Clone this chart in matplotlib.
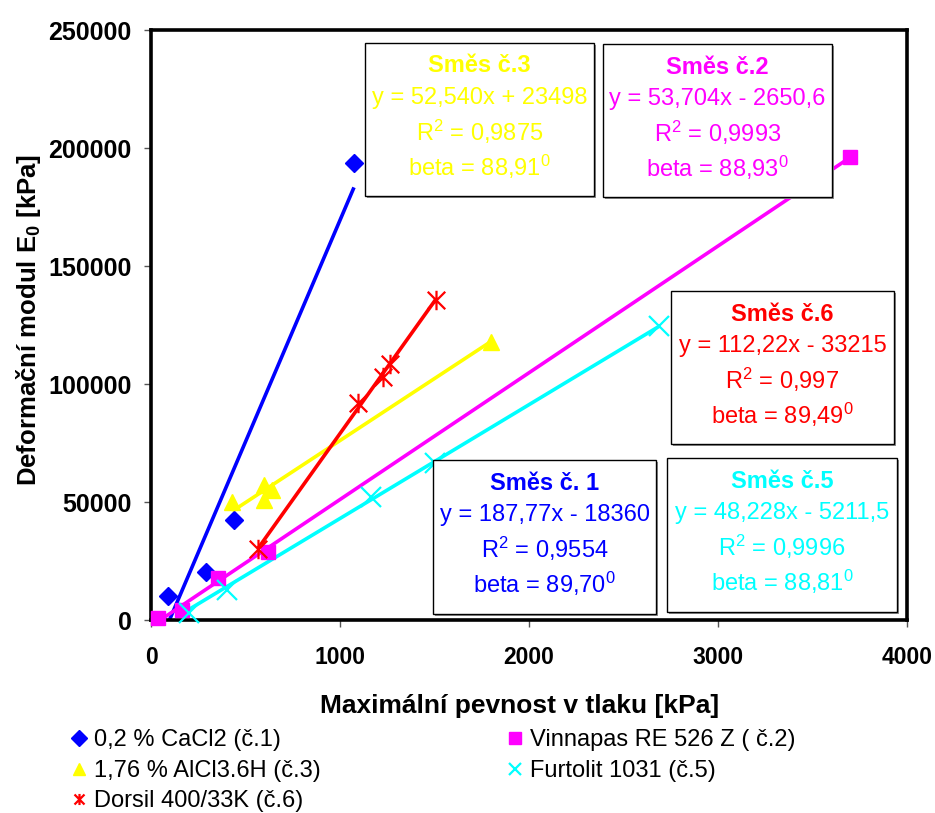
import numpy as np
import matplotlib
matplotlib.use("Agg")
import matplotlib.pyplot as plt
from matplotlib.path import Path
from matplotlib.patches import Rectangle

plt.rcParams['font.family'] = ['Liberation Sans', 'DejaVu Sans']
plt.rcParams['mathtext.fontset'] = 'custom'
plt.rcParams['mathtext.rm'] = 'Liberation Sans'
plt.rcParams['mathtext.it'] = 'Liberation Sans:italic'
plt.rcParams['mathtext.bf'] = 'Liberation Sans:bold'

# --- data ---
cacl2_x = [90, 291, 439, 1074]
cacl2_y = [10000, 20300, 42300, 193700]

vinn_x = [37, 164, 354, 619, 3698]
vinn_y = [1000, 4200, 17800, 28800, 196300]

alcl3_x = [431, 598, 598, 640, 1799]
alcl3_y = [50000, 57000, 51000, 55000, 118000]

furt_x = [201, 402, 1164, 1503, 2688]
furt_y = [3000, 12700, 52000, 66400, 124400]

dors_x = [566, 1095, 1228, 1265, 1508]
dors_y = [30000, 92000, 102800, 108300, 135400]

labels = ["0,2 % CaCl2 (č.1)", "Vinnapas RE 526 Z ( č.2)", "1,76 % AlCl3.6H (č.3)",
          "Furtolit 1031 (č.5)", "Dorsil 400/33K (č.6)"]
colors = ["#0000FF", "#FF00FF", "#FFFF00", "#00FFFF", "#FF0000"]

# trendline equations (slope, intercept)
slopes = [187.77, 53.704, 52.540, 48.228, 112.22]
intercepts = [-18360, -2650.6, 23498, -5211.5, -33215]

box_titles = ["Směs č. 1", "Směs č.2", "Směs č.3", "Směs č.5", "Směs č.6"]
box_eqs = ["y = 187,77x - 18360", "y = 53,704x - 2650,6", "y = 52,540x + 23498",
           "y = 48,228x - 5211,5", "y = 112,22x - 33215"]
box_r2 = ["0,9554", "0,9993", "0,9875", "0,9996", "0,997"]
box_beta = ["89,70", "88,93", "88,91", "88,81", "89,49"]

W, H = 935, 813
fig = plt.figure(figsize=(W / 100, H / 100), dpi=100)
ax = fig.add_axes([151 / W, 1 - 620 / H, (907 - 151) / W, (620 - 30) / H])

star = Path([(0, -1), (0, 1), (-0.9, -0.9), (0.9, 0.9), (-0.9, 0.9), (0.9, -0.9)],
            [Path.MOVETO, Path.LINETO] * 3)

series = [(cacl2_x, cacl2_y, 'D', 9, 1), (vinn_x, vinn_y, 's', 10, 1),
          (alcl3_x, alcl3_y, '^', 12, 1), (furt_x, furt_y, 'x', 14, 1.6),
          (dors_x, dors_y, star, 14, 1.6)]

handles = []
for (xs, ys, mk, ms, mew), lab, c, k, q in zip(series, labels, colors, slopes, intercepts):
    xx = np.array([min(xs), max(xs)])
    ax.plot(xx, k * xx + q, color=c, lw=2.6, zorder=2, solid_capstyle='butt')
    h, = ax.plot(xs, ys, ls='none', marker=mk, ms=ms, color=c, mec=c, mew=mew,
                 label=lab, zorder=3, clip_on=False)
    handles.append(h)

ax.set_xlim(0, 4000)
ax.set_ylim(0, 250000)
ax.set_xticks(np.arange(0, 4001, 1000))
ax.set_yticks(np.arange(0, 250001, 50000))
for s in ax.spines.values():
    s.set_linewidth(2.6)
    s.set_color('black')
ax.tick_params(direction='out', length=5, width=1, color='#555555')
ax.tick_params(axis='y', pad=9)
ax.tick_params(axis='x', pad=14)
for t in ax.get_yticklabels():
    t.set_fontweight('bold')
    t.set_fontsize(18)
for t in ax.get_xticklabels():
    t.set_fontweight('bold')
    t.set_fontsize(16.5)

fig.text(29 / W, 1 - 320 / H, r'Deformační modul E$_{\mathbf{0}}$ [kPa]', rotation=90,
         ha='center', va='center', fontsize=18.5, fontweight='bold')
fig.text(520 / W, 1 - 706 / H, 'Maximální pevnost v tlaku [kPa]', ha='center', va='center',
         fontsize=19, fontweight='bold')

# equation boxes: left, top, right, bottom in pixels
boxes = [(433, 460, 656, 614), (603, 44, 832, 197), (365, 43, 594, 196),
         (667, 458, 897, 612), (671, 291, 894, 444)]
for (l, t, r, b), c, tt, eq, r2, be in zip(boxes, colors, box_titles, box_eqs, box_r2, box_beta):
    fig.add_artist(Rectangle((l / W + 0.002, 1 - b / H - 0.002), (r - l) / W, (b - t) / H,
                             transform=fig.transFigure, facecolor='#909090',
                             edgecolor='none', zorder=4.9))
    fig.add_artist(Rectangle((l / W, 1 - b / H), (r - l) / W, (b - t) / H,
                             transform=fig.transFigure, facecolor='white',
                             edgecolor='black', lw=1, zorder=5))
    cx = (l + r) / 2 / W
    rows = [(tt, 23, 'bold'), (eq, 55, 'normal'), (r'R$^{2}$ = ' + r2, 89, 'normal'),
            ('beta = ' + be + r'$^{0}$', 124, 'normal')]
    for txt, dy, fw in rows:
        fig.text(cx, 1 - (t + dy) / H, txt, ha='center', va='center', color=c,
                 fontsize=17, fontweight=fw, zorder=6)

leg = fig.legend([handles[0], handles[2], handles[4], handles[1], handles[3]],
                 [labels[0], labels[2], labels[4], labels[1], labels[3]],
                 ncol=2, loc='upper left', bbox_to_anchor=(60 / W, 1 - 720 / H),
                 frameon=False, handlelength=0.85, handletextpad=0.2,
                 labelspacing=0.36, columnspacing=7.8, borderaxespad=0,
                 prop={'size': 17})
for h in leg.legend_handles:
    h.set_markersize(8)

fig.savefig('out.png', dpi=100)
